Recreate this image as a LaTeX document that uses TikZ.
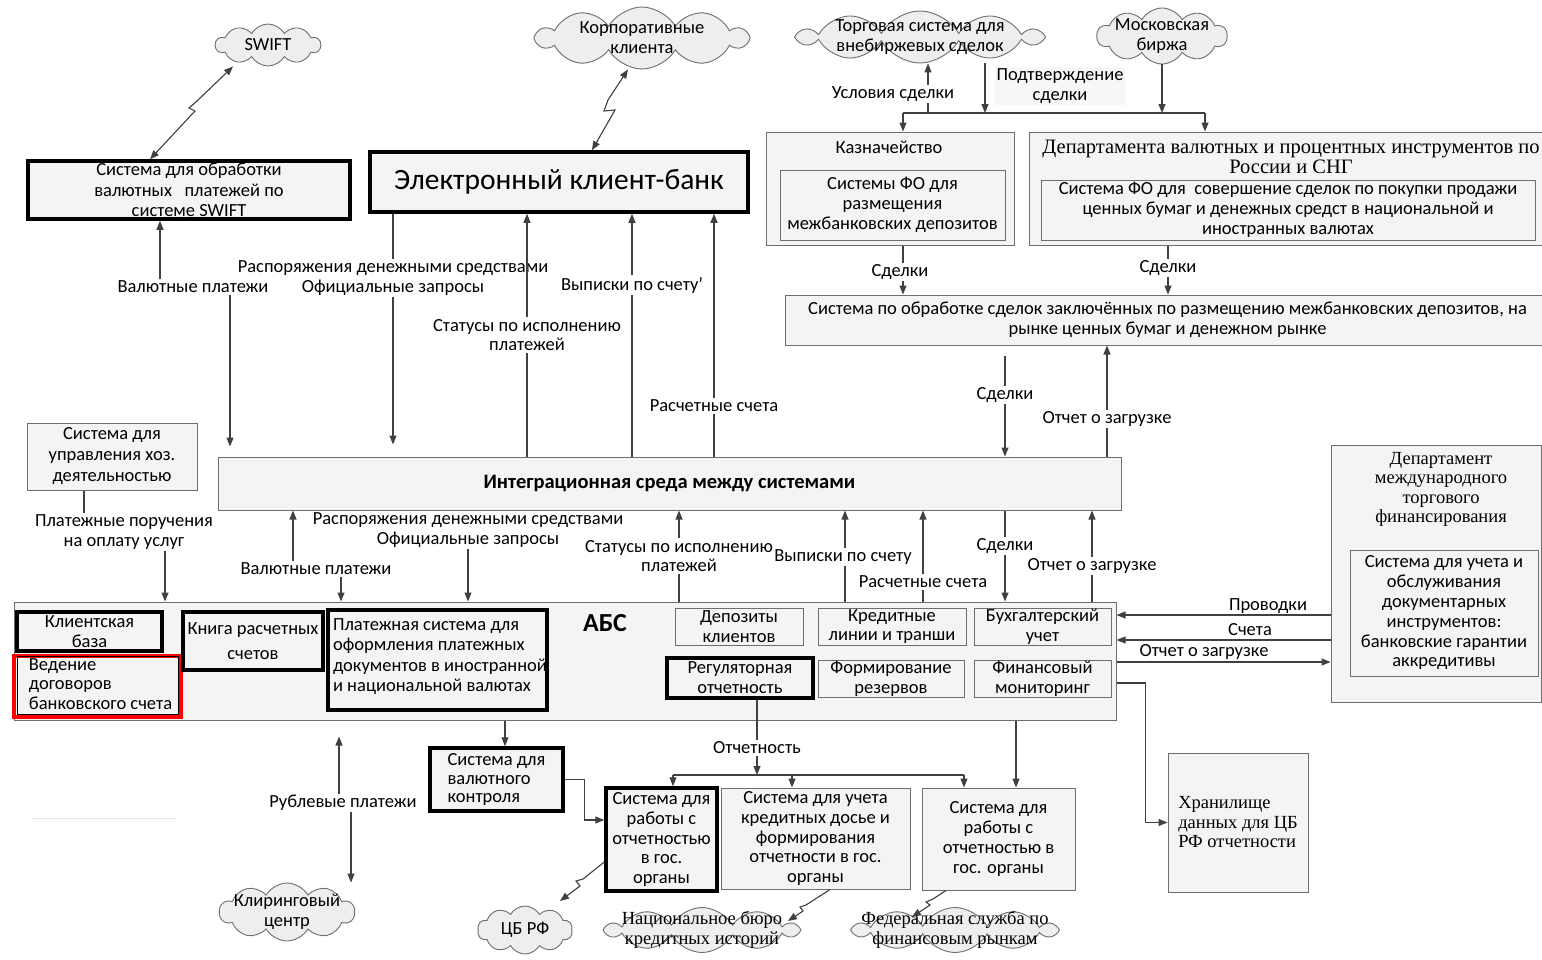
\documentclass[tikz,border=0pt]{standalone}
\usepackage{fontspec}
\setmainfont{Carlito}
\newfontfamily\serifrm{Liberation Serif}
\usetikzlibrary{shapes.symbols,arrows.meta,calc}
\newcommand\fsmain{\fontsize{18.5}{19.8}\selectfont}
\newcommand\fsser{\serifrm\fontsize{18.5}{19.5}\selectfont}
\definecolor{lncol}{HTML}{404040}
\definecolor{boxcol}{HTML}{6E6E6E}
\definecolor{boxfill}{HTML}{F4F4F4}
\definecolor{cloudfill}{HTML}{EEEEEE}
\begin{document}
\begin{tikzpicture}[x=1pt,y=-1pt,font=\fsmain,
  box/.style={draw=boxcol, fill=boxfill, line width=1pt, inner sep=0pt, align=center},
  tbox/.style={box, draw=black, line width=3.5pt},
  cl/.style={cloud, cloud puffs=10, cloud puff arc=120, cloud ignores aspect, draw=boxcol, fill=cloudfill, line width=0.9pt, inner sep=0pt},
  lbl/.style={align=center, inner sep=1.5pt},
  ln/.style={draw=lncol, line width=1.1pt},
  arr/.style={ln, -{Triangle[length=9pt,width=7pt]}},
  darr/.style={ln, {Triangle[length=9pt,width=7pt]}-{Triangle[length=9pt,width=7pt]}}]
\useasboundingbox (0,0) rectangle (1542,959);
\fill[white] (0,0) rectangle (1542,959);

% clouds
\node[cl, minimum width=105pt, minimum height=42pt, label={center:SWIFT}] (swift) at (268,45) {};
\node[cl, minimum width=210pt, minimum height=62pt, label={[align=center]center:Корпоративные\\клиента}] (korp) at (642,38) {};
\node[cl, minimum width=240pt, minimum height=52pt, label={[align=center]center:Торговая система для\\внебиржевых сделок}] (torg) at (920,37) {};
\node[cl, minimum width=130pt, minimum height=56pt, label={[align=center]center:Московская\\биржа}] (mosc) at (1162,36) {};
\node[cl, minimum width=135pt, minimum height=58pt, label={[align=center]center:Клиринговый\\центр}] (klir) at (287,912) {};
\node[cl, minimum width=95pt, minimum height=48pt, label={center:ЦБ РФ}] (cbrf) at (525,930) {};
\node[cl, minimum width=190pt, minimum height=45pt, label={[align=center,font=\fsser]center:Национальное бюро\\кредитных историй}] (nbki) at (702,930) {};
\node[cl, minimum width=200pt, minimum height=45pt, label={[align=center,font=\fsser]center:Федеральная служба по\\финансовым рынкам}] (fsfr) at (955,930) {};

% top boxes
\node[tbox, minimum width=322pt, minimum height=58pt, font=\fontsize{18.5}{20.5}\selectfont] (swiftsys) at (189,190) {Система для обработки\\валютных \ \ платежей по\\системе SWIFT};
\node[tbox, minimum width=378pt, minimum height=60pt, font=\fontsize{29.5}{32}\selectfont] (ecb) at (559,182) {Электронный клиент-банк};

\node[box, minimum width=248pt, minimum height=113pt] (kazO) at (890,188.5) {};
\node (kazT) at (889,147) {Казначейство};
\node[box, minimum width=225pt, minimum height=70pt] (kazI) at (892.5,205) {Системы ФО для\\размещения\\межбанковских депозитов};

\node[box, minimum width=521pt, minimum height=113pt] (depO) at (1289.5,188.5) {};
\node[font=\serifrm\fontsize{20.5}{20}\selectfont, align=center] (depT) at (1291,157) {Департамента валютных и процентных инструментов по\\России и СНГ};
\node[box, minimum width=494pt, minimum height=60pt] (depI) at (1288,210) {Система ФО для \ совершение сделок по покупки продажи\\ценных бумаг и денежных средст в национальной и\\иностранных валютах};

\node[box, minimum width=765pt, minimum height=50pt] (proc) at (1167.5,320) {Система по обработке сделок заключённых по размещению межбанковских депозитов, на\\рынке ценных бумаг и денежном рынке};

\node[box, minimum width=170pt, minimum height=67pt, font=\fontsize{18.5}{21}\selectfont] (hoz) at (112,456.5) {Система для\\управления хоз.\\деятельностью};
\node[box, minimum width=903pt, minimum height=53pt, font=\bfseries\fontsize{20.5}{22}\selectfont] (integ) at (669.5,483.5) {Интеграционная среда между системами};

\node[box, minimum width=210pt, minimum height=257pt] (mtfO) at (1436,573.5) {};
\node[font=\fsser, align=center] (mtfT) at (1441,489.5) {Департамент\\международного\\торгового\\финансирования};
\node[box, minimum width=188pt, minimum height=126pt] (mtfI) at (1444,613) {Система для учета и\\обслуживания\\документарных\\инструментов:\\банковские гарантии\\аккредитивы};

% ABS
\node[box, minimum width=1102pt, minimum height=118pt] (abs) at (565,661) {};
\node[font=\bfseries\fontsize{26}{28}\selectfont] (absT) at (605,623) {АБС};
\node[tbox, minimum width=145pt, minimum height=39pt] (klient) at (89.5,631.5) {Клиентская\\база};
\node[box, draw=red, line width=4pt, minimum width=167pt, minimum height=61pt, font=\fontsize{18.5}{19.8}\selectfont] (vedenie) at (97.5,686) {\begin{tabular}{@{\hspace{6pt}}l@{}}Ведение\\договоров\\банковского счета\end{tabular}};
\draw[black, line width=0.8pt] ([shift={(5pt,-3pt)}]vedenie.north west) rectangle ([shift={(-5pt,4pt)}]vedenie.south east);
\node[tbox, minimum width=140pt, minimum height=58pt] (kniga) at (253,641) {Книга расчетных\\[5pt]счетов};
\node[tbox, minimum width=217pt, minimum height=100pt, font=\fontsize{18.5}{20.5}\selectfont] (plat) at (437.5,660) {\begin{tabular}{@{\hspace{5pt}}l@{}}Платежная система для\\оформления платежных\\документов в иностранной\\и национальной валютах\\[6pt]\end{tabular}};
\node[box, minimum width=128pt, minimum height=37pt] (depoz) at (739,626.5) {Депозиты\\клиентов};
\node[box, minimum width=148pt, minimum height=37pt] (kred) at (892,626.5) {Кредитные\\линии и транши};
\node[box, minimum width=137pt, minimum height=37pt] (buh) at (1042.5,626.5) {Бухгалтерский\\учет};
\node[tbox, minimum width=146pt, minimum height=40pt] (regul) at (740,678) {Регуляторная\\отчетность};
\node[box, minimum width=146pt, minimum height=37pt] (rezerv) at (891,678.5) {Формирование\\резервов};
\node[box, minimum width=137pt, minimum height=37pt] (finmon) at (1042.5,678.5) {Финансовый\\мониторинг};

% bottom boxes
\node[tbox, minimum width=133pt, minimum height=63pt, align=left, font=\fontsize{18.5}{18.5}\selectfont] (valkon) at (496.5,779.5) {Система для\\валютного\\контроля};
\node[tbox, minimum width=111pt, minimum height=103pt] (gos1) at (661.5,839.5) {Система для\\работы с\\отчетностью\\в гос.\\органы};
\node[box, minimum width=189pt, minimum height=101pt] (kreddos) at (815.5,838.5) {Система для учета\\кредитных досье и\\формирования\\отчетности в гос.\\органы};
\node[box, minimum width=153pt, minimum height=102pt] (gos2) at (998.5,839) {Система для\\работы с\\отчетностью в\\гос. органы};
\node[box, minimum width=140pt, minimum height=139pt, align=left, font=\fsser] (hran) at (1238,822.5) {Хранилище\\данных для ЦБ\\РФ отчетности};

% labels
\node[lbl] (vp1) at (193,287) {Валютные платежи};
\node[lbl] (rd1) at (393,278) {Распоряжения денежными средствами\\Официальные запросы};
\node[lbl] (st1) at (527,335) {Статусы по исполнению\\платежей};
\node[lbl] (vs1) at (632,285) {Выписки по счету'};
\node[lbl] (rs1) at (714,406) {Расчетные счета};
\node[lbl, fill=white] (us) at (893,94) {Условия сделки};
\node[lbl, fill=gray!6] (pd) at (1060,86) {Подтверждение\\сделки};
\node[lbl] (sd1) at (900,272) {Сделки};
\node[lbl] (sd2) at (1168,268) {Сделки};
\node[lbl] (sd3) at (1005,395) {Сделки};
\node[lbl] (oz1) at (1107,419) {Отчет о загрузке};
\node[lbl] (pp) at (124,532) {Платежные поручения\\на оплату услуг};
\node[lbl] (vp2) at (316,569) {Валютные платежи};
\node[lbl] (rd2) at (468,530) {Распоряжения денежными средствами\\Официальные запросы};
\node[lbl] (st2) at (679,556) {Статусы по исполнению\\платежей};
\node[lbl] (vs2) at (843,557) {Выписки по счету};
\node[lbl] (rs2) at (923,582) {Расчетные счета};
\node[lbl] (sd4) at (1005,546) {Сделки};
\node[lbl] (oz2) at (1092,566) {Отчет о загрузке};
\node[lbl] (pr) at (1268,606) {Проводки};
\node[lbl] (sch) at (1250,630) {Счета};
\node[lbl] (oz3) at (1204,652) {Отчет о загрузке};
\node[lbl] (ot) at (757,748) {Отчетность};
\node[lbl] (rub) at (343,803) {Рублевые платежи};

% coordinates
\coordinate (busL) at (903,113);
\coordinate (busR) at (1205,113);
\coordinate (usB) at (928,113);
\coordinate (pdB) at (985,113);
\coordinate (mB) at (1162,113);
\coordinate (obusL) at (673,775);
\coordinate (obusR) at (964,775);
\coordinate (obusM) at (757,775);

% lightning connectors
\draw[darr] ([xshift=-35pt]swift.south) -- (197,101) -- (189,108) -- (195,111) -- ([xshift=-39pt]swiftsys.north);
\draw[darr] ([xshift=-14pt]korp.south) -- (608,100) -- (604,111) -- (615,110) -- ([xshift=33pt]ecb.north);
\draw[arr] ([yshift=-22.5pt]gos1.west) -- (583,879) -- (576,881) -- (580,886) -- (560,901);
\draw[arr] ([xshift=14.5pt]kreddos.south) -- (806,905) -- (800,907) -- (803,911) -- (788,921);
\draw[arr] ([xshift=-52.5pt]gos2.south) -- (933,899) -- (926,902) -- (930,905) -- (912,917);

% top left
\draw[arr] ([xshift=-33pt]vp1.north) -- ([xshift=-29pt]swiftsys.south);
\draw[arr, shorten >=10pt] ([xshift=37pt]vp1.south) -- ([xshift=-439.5pt]integ.north);
\draw[ln] ([xshift=-166pt]ecb.south) -- (rd1.north);
\draw[arr, shorten >=12pt] (rd1.south) -- ([xshift=-276.5pt]integ.north);
\draw[ln] ([xshift=-142.5pt]integ.north) -- (st1.south);
\draw[arr] (st1.north) -- ([xshift=-32pt]ecb.south);
\draw[ln] ([xshift=-37.5pt]integ.north) -- (vs1.south);
\draw[arr] (vs1.north) -- ([xshift=73pt]ecb.south);
\draw[ln] ([xshift=44.5pt]integ.north) -- (rs1.south);
\draw[arr] (rs1.north) -- ([xshift=155pt]ecb.south);

% treasury
\draw[ln] (busL) -- (busR);
\draw[arr] (busL) -- ([xshift=13pt]kazO.north);
\draw[arr] (busR) -- ([xshift=-84.5pt]depO.north);
\draw[ln] (usB) -- ([xshift=35pt]us.south);
\draw[arr] ([xshift=35pt]us.north) -- ([xshift=8pt]torg.south);
\draw[arr] ([xshift=65pt]torg.south) -- (pdB);
\draw[arr] (mosc.south) -- (mB);
\draw[ln] ([xshift=13pt]kazO.south) -- ([xshift=3pt]sd1.north);
\draw[arr] ([xshift=3pt]sd1.south) -- ([xshift=-264.5pt]proc.north);
\draw[ln] ([xshift=-121.5pt]depO.south) -- (sd2.north);
\draw[arr] (sd2.south) -- ([xshift=0.5pt]proc.north);
\draw[ln, shorten <=10pt] ([xshift=-162.5pt]proc.south) -- (sd3.north);
\draw[arr] (sd3.south) -- ([xshift=335.5pt]integ.north);
\draw[ln] ([xshift=437.5pt]integ.north) -- (oz1.south);
\draw[arr] (oz1.north) -- ([xshift=-60.5pt]proc.south);

% integration <-> ABS
\draw[ln] ([xshift=-28pt]hoz.south) -- ([xshift=-40pt]pp.north);
\draw[arr] ([xshift=41pt]pp.south) -- ([xshift=-400pt]abs.north);
\draw[arr] ([xshift=-23pt]vp2.north) -- ([xshift=-376.5pt]integ.south);
\draw[arr] ([xshift=25pt]vp2.south) -- ([xshift=-224pt]abs.north);
\draw[arr] (rd2.south) -- ([xshift=-97pt]abs.north);
\draw[arr] (st2.north) -- ([xshift=9.5pt]integ.south);
\draw[ln] ([xshift=114pt]abs.north) -- (st2.south);
\draw[arr] ([xshift=2pt]vs2.north) -- ([xshift=175.5pt]integ.south);
\draw[ln] ([xshift=280pt]abs.north) -- ([xshift=2pt]vs2.south);
\draw[arr] (rs2.north) -- ([xshift=253.5pt]integ.south);
\draw[ln] ([xshift=358pt]abs.north) -- (rs2.south);
\draw[ln] ([xshift=335.5pt]integ.south) -- (sd4.north);
\draw[arr] (sd4.south) -- ([xshift=440pt]abs.north);
\draw[arr] (oz2.north) -- ([xshift=422.5pt]integ.south);
\draw[ln] ([xshift=527pt]abs.north) -- (oz2.south);

% international trade finance
\draw[arr] ([yshift=-41.5pt]mtfO.west) -- ([yshift=46pt]abs.east);
\draw[arr] ([yshift=-66.5pt]mtfO.west) -- ([yshift=21pt]abs.east);
\draw[arr] ([yshift=-1pt]abs.east) -- ([yshift=-88.5pt]mtfO.west);
\draw[arr] ([yshift=-22pt]abs.east) -- ++(29,0) |- (hran.west);

% bottom
\draw[arr] ([xshift=-60pt]abs.south) -- ([xshift=8.5pt]valkon.north);
\draw[arr] (valkon.east) -- ++(20,0) |- ([yshift=19.5pt]gos1.west);
\draw[ln] ([xshift=17pt]regul.south) -- (ot.north);
\draw[arr] (ot.south) -- (obusM);
\draw[ln] (obusL) -- (obusR);
\draw[arr] (obusL) -- ([xshift=11.5pt]gos1.north);
\draw[arr] ([xshift=-23.5pt]obusR -| kreddos.north) -- ([xshift=-23.5pt]kreddos.north);
\draw[arr] (obusR) -- ([xshift=-34.5pt]gos2.north);
\draw[arr] ([xshift=451pt]abs.south) -- ([xshift=17.5pt]gos2.north);
\draw[arr, shorten >=16pt] ([xshift=-4pt]rub.north) -- ([xshift=-226pt]abs.south);
\draw[arr] ([xshift=8pt]rub.south) -- ([xshift=64pt]klir.north);
\draw[gray!20, line width=1pt] (32,818) -- (177,818);
\end{tikzpicture}
\end{document}
